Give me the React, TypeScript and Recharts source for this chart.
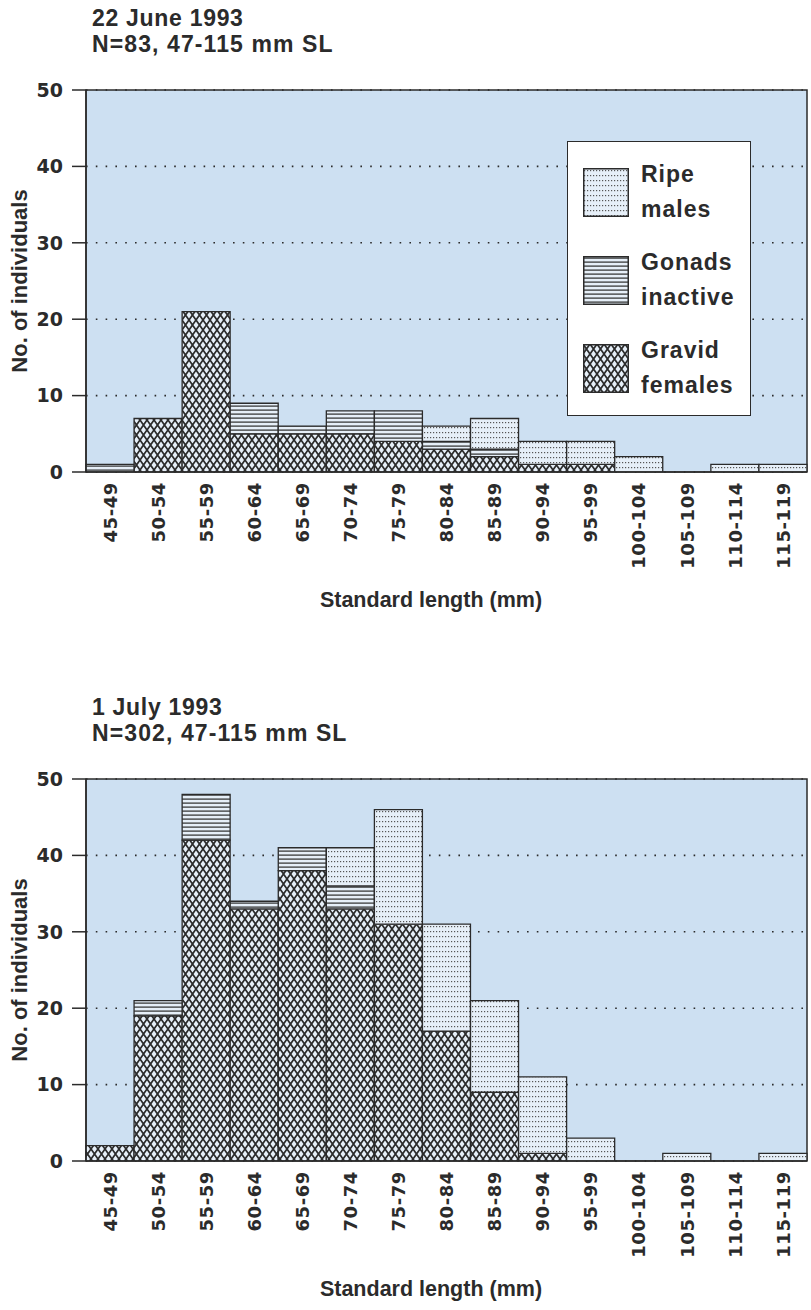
import React from 'react';
import { BarChart, Bar, XAxis, YAxis, CartesianGrid, ReferenceArea, Legend } from 'recharts';

const categories = ['45-49', '50-54', '55-59', '60-64', '65-69', '70-74', '75-79', '80-84', '85-89', '90-94', '95-99', '100-104', '105-109', '110-114', '115-119'];

const juneGravid = [0, 7, 21, 5, 5, 5, 4, 3, 2, 1, 1, 0, 0, 0, 0];
const juneGonads = [1, 0, 0, 4, 1, 3, 4, 1, 1, 0, 0, 0, 0, 0, 0];
const juneRipe = [0, 0, 0, 0, 0, 0, 0, 2, 4, 3, 3, 2, 0, 1, 1];

const julyGravid = [2, 19, 42, 33, 38, 33, 31, 17, 9, 1, 0, 0, 0, 0, 0];
const julyGonads = [0, 2, 6, 1, 3, 3, 0, 0, 0, 0, 0, 0, 0, 0, 0];
const julyRipe = [0, 0, 0, 0, 0, 5, 15, 14, 12, 10, 3, 0, 1, 0, 1];

const yTicks = [0, 10, 20, 30, 40, 50];

const seriesNames = { gravid: 'Gravid females', gonads: 'Gonads inactive', ripe: 'Ripe males' };

const INK = '#2b2b2b';
const PLOT_BG = '#cde0f2';
const BAR_BG = '#e6eff8';
const DV = "'DejaVu Sans', sans-serif";
const LS = "'Liberation Sans', Arial, sans-serif";

function buildData(g: number[], n: number[], r: number[]) {
  return categories.map((c, i) => ({ range: c, gravid: g[i], gonads: n[i], ripe: r[i] }));
}

const juneData = buildData(juneGravid, juneGonads, juneRipe);
const julyData = buildData(julyGravid, julyGonads, julyRipe);

function Patterns({ p }: { p: string }) {
  return (
    <defs>
      <pattern id={`${p}-gravid`} width="7" height="10" patternUnits="userSpaceOnUse">
        <rect width="7" height="10" fill={BAR_BG} />
        <path d="M0,0 L7,10 M7,0 L0,10" stroke={INK} strokeWidth="1.7" />
      </pattern>
      <pattern id={`${p}-gonads`} width="6" height="4" patternUnits="userSpaceOnUse">
        <rect width="6" height="4" fill={BAR_BG} />
        <rect x="0" y="1.5" width="6" height="1.2" fill={INK} />
      </pattern>
      <pattern id={`${p}-ripe`} width="3" height="5" patternUnits="userSpaceOnUse">
        <rect width="3" height="5" fill={BAR_BG} />
        <rect x="1" y="2" width="1.2" height="1.2" fill="#555" />
      </pattern>
    </defs>
  );
}

const XTick = (props: any) => {
  const { x, y, payload } = props;
  return (
    <g transform={`translate(${x},${y})`}>
      <text
        transform="rotate(-90)"
        x={-10}
        y={0}
        dy="0.37em"
        textAnchor="end"
        fontFamily={DV}
        fontWeight="bold"
        fontSize={18}
        letterSpacing={0.6}
        fill={INK}
      >
        {payload.value}
      </text>
    </g>
  );
};

const LegendBox = (props: any) => {
  const order = ['ripe', 'gonads', 'gravid'];
  const payload = props.payload || [];
  const items = order
    .map((k) => payload.find((e: any) => e.dataKey === k))
    .filter(Boolean);
  return (
    <div
      style={{
        position: 'relative',
        width: 184,
        height: 275,
        boxSizing: 'border-box',
        background: '#ffffff',
        border: `1.5px solid ${INK}`,
      }}
    >
      {items.map((e: any, i: number) => {
        const words = String(e.value).split(' ');
        return (
          <div key={e.dataKey} style={{ position: 'absolute', left: 15, top: 26 + i * 88 }}>
            <svg width={46} height={49} style={{ position: 'absolute', left: 0, top: 0 }}>
              <rect x={0.75} y={0.75} width={44.5} height={47.5} fill={e.color} stroke={INK} strokeWidth={1.5} />
            </svg>
            <div
              style={{
                position: 'absolute',
                left: 58,
                top: -11,
                fontFamily: LS,
                fontWeight: 'bold',
                fontSize: 23,
                letterSpacing: 1,
                lineHeight: '35px',
                color: INK,
                whiteSpace: 'nowrap',
              }}
            >
              <div>{words[0]}</div>
              <div>{words.slice(1).join(' ')}</div>
            </div>
          </div>
        );
      })}
    </div>
  );
};

function Histogram({ data, title, subtitle, p, legend, top }: any) {
  return (
    <div style={{ position: 'absolute', left: 0, top }}>
      <BarChart
        width={811}
        height={620}
        data={data}
        margin={{ top: 90, right: 4, left: 16, bottom: 48 }}
        barCategoryGap={0}
        barGap={0}
      >
        <Patterns p={p} />
        <CartesianGrid
          vertical={false}
          fill={PLOT_BG}
          fillOpacity={1}
          stroke={INK}
          strokeWidth={1.6}
          strokeDasharray="1.6 8.2"
        />
        <XAxis
          dataKey="range"
          interval={0}
          height={100}
          tickLine={false}
          tickSize={0}
          tickMargin={0}
          axisLine={{ stroke: INK, strokeWidth: 1.5 }}
          tick={<XTick />}
        />
        <YAxis
          domain={[0, 50]}
          ticks={yTicks}
          width={70}
          tickSize={14}
          tickMargin={9}
          axisLine={{ stroke: INK, strokeWidth: 1.5 }}
          tickLine={{ stroke: INK, strokeWidth: 1.5 }}
          tick={{ fontFamily: DV, fontWeight: 'bold', fontSize: 19, fill: INK }}
          allowDataOverflow
        />
        <Bar dataKey="gravid" name={seriesNames.gravid} stackId="s" fill={`url(#${p}-gravid)`} stroke={INK} strokeWidth={1.3} isAnimationActive={false} />
        <Bar dataKey="gonads" name={seriesNames.gonads} stackId="s" fill={`url(#${p}-gonads)`} stroke={INK} strokeWidth={1.3} isAnimationActive={false} />
        <Bar dataKey="ripe" name={seriesNames.ripe} stackId="s" fill={`url(#${p}-ripe)`} stroke={INK} strokeWidth={1.3} isAnimationActive={false} />
        <ReferenceArea y1={0} y2={50} fill="none" stroke={INK} strokeWidth={1.5} ifOverflow="visible" />
        {legend && (
          <Legend
            layout="vertical"
            align="center"
            verticalAlign="middle"
            content={<LegendBox />}
            wrapperStyle={{ position: 'absolute', left: 567, top: 141, width: 184, height: 275 }}
          />
        )}
        <text x={92} y={26} fontFamily={LS} fontWeight="bold" fontSize={23} letterSpacing={0.7} fill={INK}>
          {title}
        </text>
        <text x={92} y={52} fontFamily={LS} fontWeight="bold" fontSize={23} letterSpacing={1.1} fill={INK}>
          {subtitle}
        </text>
        <text
          transform="translate(27,281) rotate(-90)"
          textAnchor="middle"
          fontFamily={LS}
          fontWeight="bold"
          fontSize={22}
          fill={INK}
        >
          No. of individuals
        </text>
        <text x={431} y={607} textAnchor="middle" fontFamily={LS} fontWeight="bold" fontSize={21.5} fill={INK}>
          Standard length (mm)
        </text>
      </BarChart>
    </div>
  );
}

export default function App() {
  return (
    <div style={{ position: 'absolute', left: 0, top: 0, width: 811, height: 1310, overflow: 'hidden', background: '#fff' }}>
      <Histogram data={juneData} title="22 June 1993" subtitle="N=83, 47-115 mm SL" p="jun" legend top={0} />
      <Histogram data={julyData} title="1 July 1993" subtitle="N=302, 47-115 mm SL" p="jul" legend={false} top={689} />
    </div>
  );
}
